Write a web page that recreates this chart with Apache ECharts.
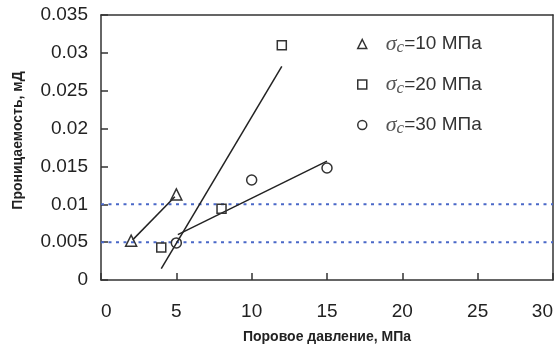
<!DOCTYPE html>
<html>
<head>
<meta charset="utf-8">
<script src="https://cdn.jsdelivr.net/npm/echarts@6/dist/echarts.min.js"></script>
<style>
  html, body { margin: 0; padding: 0; background: #fff; }
  #chart { width: 555px; height: 350px; }
</style>
</head>
<body>
<div id="chart"></div>
<script>
// точки измерений
var names = ['10', '20', '30'];
var pts10 = [[2, 0.0052], [5, 0.0113]];
var pts20 = [[4, 0.0043], [8, 0.0094], [12, 0.031]];
var pts30 = [[5, 0.0049], [10, 0.0132], [15, 0.0148]];
// линии тренда (концы)
var fit10 = [[2.1, 0.0053], [4.9, 0.011]];
var fit20 = [[4.0, 0.0015], [12.0, 0.0282]];
var fit30 = [[5.1, 0.006], [15.0, 0.0157]];
// уровни пунктиром
var refLevels = [0.005, 0.01];
var xRange = [0, 30];

var symbols = ['triangle', 'rect', 'circle'];
var sizes = [11, 9, 10];
var pts = [pts10, pts20, pts30];
var fits = [fit10, fit20, fit30];

function label(n) {
  return '{s|σ}{c|c}{t|=' + n + ' МПа}';
}

var hollow = { color: 'rgba(0,0,0,0)', borderColor: '#333', borderWidth: 1.5, opacity: 1 };

var series = [];
// пунктирные уровни
refLevels.forEach(function (v) {
  series.push({
    type: 'line',
    data: [[xRange[0], v], [xRange[1], v]],
    symbol: 'none',
    silent: true,
    lineStyle: { color: '#4a68c8', width: 2, type: [3, 4.5] },
    z: 1
  });
});
for (var j = 0; j < 3; j++) {
  series.push({
    type: 'line',
    data: fits[j],
    symbol: 'none',
    lineStyle: { color: '#222', width: 1.5 },
    z: 2
  });
}
for (var i = 0; i < 3; i++) {
  series.push({
    name: label(names[i]),
    type: 'scatter',
    symbol: symbols[i],
    symbolSize: sizes[i],
    data: pts[i],
    itemStyle: hollow,
    z: 3
  });
}

var frameLine = { show: true, onZero: false, lineStyle: { color: '#333', width: 1.5 } };

var myChart = echarts.init(document.getElementById('chart'));
var option = {
  backgroundColor: '#fff',
  animation: false,
  grid: { left: 101, top: 15, right: 2, bottom: 70, outerBoundsMode: 'none', containLabel: false },
  legend: {
    orient: 'vertical',
    left: 352,
    top: 28,
    itemGap: 17,
    itemWidth: 9,
    itemHeight: 9,
    data: [0, 1, 2].map(function (k) {
      return { name: label(names[k]), icon: symbols[k], itemStyle: hollow };
    }),
    formatter: function (n) { return n; },
    textStyle: {
      padding: [0, 0, 0, 14],
      rich: {
        s: { fontFamily: 'Liberation Serif', fontStyle: 'italic', fontSize: 22, color: '#555' },
        c: { fontFamily: 'Liberation Serif', fontStyle: 'italic', fontSize: 17, color: '#555', padding: [8, 0, 0, 0] },
        t: { fontFamily: 'Liberation Sans', fontSize: 19, color: '#333' }
      }
    }
  },
  xAxis: [{
    type: 'value',
    min: xRange[0], max: xRange[1], interval: 5,
    name: 'Поровое давление, МПа',
    nameLocation: 'middle',
    nameGap: 50,
    nameTextStyle: { fontFamily: 'Liberation Sans', fontWeight: 'bold', fontSize: 14, color: '#222' },
    axisLine: frameLine,
    axisTick: { inside: true, length: 7, lineStyle: { color: '#333', width: 1.5 } },
    axisLabel: {
      margin: 22, fontFamily: 'Liberation Sans', fontSize: 19, color: '#222',
      alignMinLabel: 'left', alignMaxLabel: 'right'
    },
    splitLine: { show: false }
  }, {
    type: 'value', position: 'top',
    min: xRange[0], max: xRange[1],
    axisLine: frameLine,
    axisTick: { show: false }, axisLabel: { show: false }, splitLine: { show: false }
  }],
  yAxis: [{
    type: 'value',
    min: 0, max: 0.035, interval: 0.005,
    name: 'Проницаемость, мД',
    nameLocation: 'middle',
    nameGap: 76,
    nameTextStyle: { fontFamily: 'Liberation Sans', fontWeight: 'bold', fontSize: 14, color: '#222', padding: [0, 0, 0, 14] },
    axisLine: frameLine,
    axisTick: { show: true, inside: true, length: 7, lineStyle: { color: '#333', width: 1.5 } },
    axisLabel: { margin: 13, fontFamily: 'Liberation Sans', fontSize: 19, color: '#222' },
    splitLine: { show: false }
  }, {
    type: 'value', position: 'right',
    min: 0, max: 0.035,
    axisLine: frameLine,
    axisTick: { show: false }, axisLabel: { show: false }, splitLine: { show: false }
  }],
  series: series
};
myChart.setOption(option);
</script>
</body>
</html>
